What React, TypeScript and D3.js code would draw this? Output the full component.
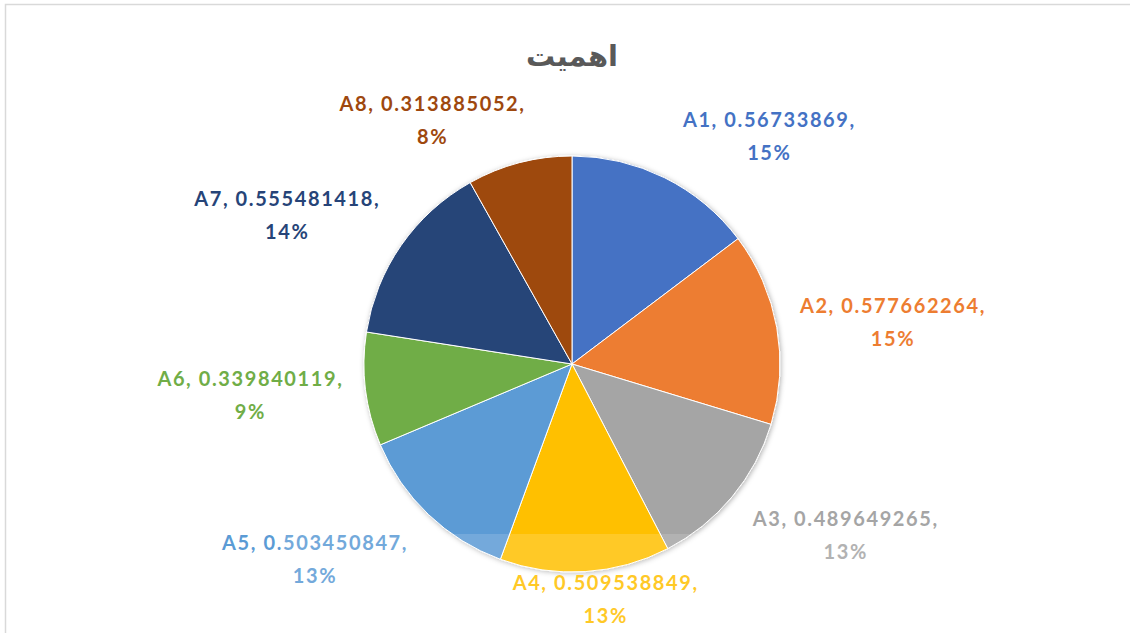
import React from "react";
import * as d3 from "d3";

const categories = ["A1", "A2", "A3", "A4", "A5", "A6", "A7", "A8"];
const values = [0.56733869, 0.577662264, 0.489649265, 0.509538849, 0.503450847, 0.339840119, 0.555481418, 0.313885052];
const valueLabels = ["0.56733869", "0.577662264", "0.489649265", "0.509538849", "0.503450847", "0.339840119", "0.555481418", "0.313885052"];
const colors = ["#4472C4", "#ED7D31", "#A5A5A5", "#FFC000", "#5B9BD5", "#70AD47", "#264478", "#9E480E"];
const title = "اهمیت";

// label fine adjustments (Excel best-fit placement), in px
const labelNudgeX = [52, 0, 23, 13, -32, 2, -17, -57];
const labelNudgeY = [8, 5, 4, -26, 6, 0, 2, 11];

const W = 1130;
const H = 633;
const cx = 572;
const cy = 364;
const R = 208;

export default function App() {
  const pie = d3.pie<number>().sort(null).value((d) => d).startAngle(0).endAngle(2 * Math.PI);
  const arcs = pie(values);
  const arc = d3.arc<d3.PieArcDatum<number>>().innerRadius(0).outerRadius(R);
  const total = d3.sum(values);
  const pct = d3.format(".0%");

  const labelBoxHalfW = 95;
  const labelBoxHalfH = 32;
  const gap = 23;

  return (
    <svg width={W} height={H} style={{ position: "absolute", left: 0, top: 0, background: "#fff" }}>
      <defs>
        <filter id="sh" x="-20%" y="-20%" width="140%" height="140%">
          <feDropShadow dx="1" dy="1" stdDeviation="2.5" floodColor="#000" floodOpacity="0.3" />
        </filter>
      </defs>
      <rect x={5.5} y={4.5} width={W + 20} height={H + 20} fill="#fff" stroke="#d9d9d9" strokeWidth={1.5} />
      <text
        x={cx}
        y={66}
        textAnchor="middle"
        fontFamily="'DejaVu Sans', 'Noto Sans', sans-serif"
        fontWeight="bold"
        fontSize={29}
        fill="#595959"
      >
        {title}
      </text>
      <g transform={`translate(${cx},${cy})`} filter="url(#sh)">
        {arcs.map((a, i) => (
          <path key={categories[i]} d={arc(a) || ""} fill={colors[i]} stroke="#fff" strokeWidth={1} />
        ))}
      </g>
      {arcs.map((a, i) => {
        const mid = (a.startAngle + a.endAngle) / 2;
        const ux = Math.sin(mid);
        const uy = -Math.cos(mid);
        const x = cx + (R + gap) * ux + labelBoxHalfW * ux + labelNudgeX[i];
        const y = cy + (R + gap) * uy + labelBoxHalfH * uy + labelNudgeY[i];
        return (
          <text
            key={"l" + i}
            textAnchor="middle"
            fontFamily="Lato, 'Open Sans', sans-serif"
            fontWeight="bold"
            fontSize={20}
            letterSpacing={1.6}
            fill={colors[i]}
          >
            <tspan x={x} y={y - 10}>{`${categories[i]}, ${valueLabels[i]},`}</tspan>
            <tspan x={x} y={y + 23}>{pct(values[i] / total)}</tspan>
          </text>
        );
      })}
      <rect x={280} y={534} width={620} height={110} fill="#fff" opacity={0.15} />
    </svg>
  );
}
